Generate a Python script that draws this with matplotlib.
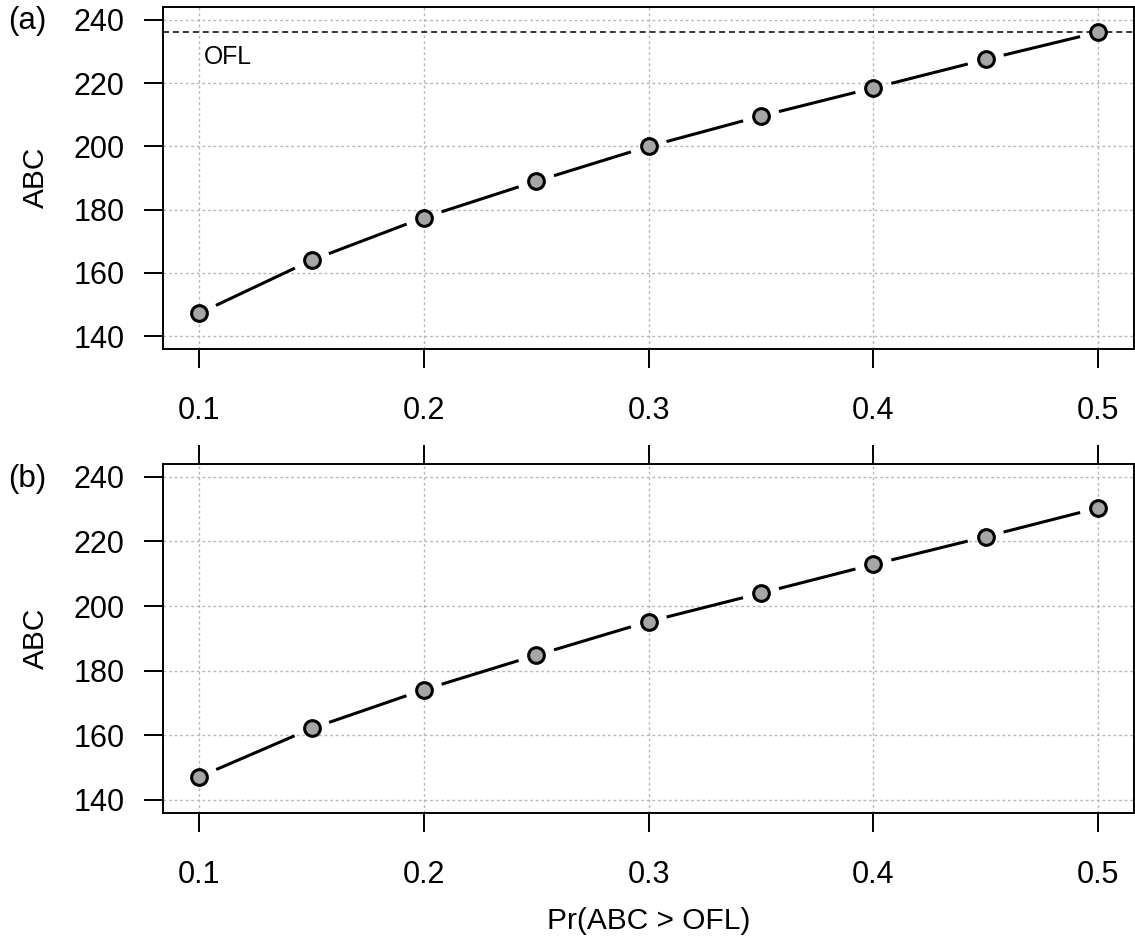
import numpy as np
import matplotlib
matplotlib.use("Agg")
import matplotlib.pyplot as plt

plt.rcParams['font.family'] = ['Liberation Sans', 'DejaVu Sans']

# ---- data ----
prob = [0.10, 0.15, 0.20, 0.25, 0.30, 0.35, 0.40, 0.45, 0.50]
abc_a = [147.2, 164.0, 177.5, 189.0, 200.0, 209.6, 218.5, 227.5, 236.1]
abc_b = [147.1, 162.1, 174.1, 184.8, 195.2, 204.0, 212.9, 221.5, 230.4]
ofl = 236.1
x_ticks = [0.1, 0.2, 0.3, 0.4, 0.5]
x_ticklabels = ["0.1", "0.2", "0.3", "0.4", "0.5"]
y_ticks = [140, 160, 180, 200, 220, 240]
y_ticklabels = ["140", "160", "180", "200", "220", "240"]
panel_labels = ["(a)", "(b)"]
xlabel = "Pr(ABC > OFL)"
ylabel = "ABC"

W, H = 1135, 944
fig = plt.figure(figsize=(W / 100, H / 100), dpi=100)

left, right = 163.3, 1134.0
ax1 = fig.add_axes([left / W, 1 - 348.7 / H, (right - left) / W, (348.7 - 7.3) / H])
ax2 = fig.add_axes([left / W, 1 - 812.7 / H, (right - left) / W, (812.7 - 464.0) / H])

TICK_FS = 22
LAB_FS = 21.5
GAP_PX = 18.5


def draw_b(ax, xs, ys):
    # R-style type="b": line segments with gaps around the points
    pts = ax.transData.transform(np.column_stack([xs, ys]))
    inv = ax.transData.inverted()
    for p0, p1 in zip(pts[:-1], pts[1:]):
        d = p1 - p0
        L = np.hypot(*d)
        if L <= 2 * GAP_PX:
            continue
        u = d / L
        a = inv.transform(p0 + u * GAP_PX)
        b = inv.transform(p1 - u * GAP_PX)
        ax.plot([a[0], b[0]], [a[1], b[1]], color='black', lw=2.2,
                solid_capstyle='butt', zorder=3)
    ax.plot(xs, ys, linestyle='none', marker='o', markersize=11.3,
            markerfacecolor='#A6A6A6', markeredgecolor='black',
            markeredgewidth=2.2, zorder=4)


for i, (ax, ys) in enumerate([(ax1, abc_a), (ax2, abc_b)]):
    ax.set_xlim(0.084, 0.516)
    ax.set_ylim(136, 244)
    ax.set_xticks(x_ticks)
    ax.set_xticklabels(x_ticklabels)
    ax.set_yticks(y_ticks)
    ax.set_yticklabels(y_ticklabels)
    ax.grid(True, color='#B8B8B8', linestyle=(0, (2, 2)), lw=1.0, zorder=0)
    ax.set_axisbelow(True)
    for sp in ax.spines.values():
        sp.set_linewidth(1.4)
        sp.set_color('black')
    ax.tick_params(axis='both', direction='out', length=13.7, width=1.4,
                   colors='black', labelsize=TICK_FS)
    ax.tick_params(axis='x', pad=20)
    ax.tick_params(axis='y', pad=14)
    if i == 1:
        ax.tick_params(axis='x', top=True, labeltop=False)
    draw_b(ax, prob, ys)

ax1.axhline(ofl, color='black', lw=1.1, linestyle=(0, (3.9, 2.6)), zorder=2)
ax1.text(0.102, 228.4, "OFL", ha='left', va='center', fontsize=17.8)

# y labels
fig.text(35.5 / W, 1 - 177 / H, ylabel, rotation=90, ha='center', va='center', fontsize=LAB_FS)
fig.text(35.5 / W, 1 - 638 / H, ylabel, rotation=90, ha='center', va='center', fontsize=LAB_FS)
# panel labels
fig.text(8 / W, 1 - 21 / H, panel_labels[0], ha='left', va='center', fontsize=22.5)
fig.text(8 / W, 1 - 479 / H, panel_labels[1], ha='left', va='center', fontsize=22.5)
# x label
fig.text(648.5 / W, 1 - 921 / H, xlabel, ha='center', va='center', fontsize=LAB_FS)

fig.savefig("out.png", dpi=100)
